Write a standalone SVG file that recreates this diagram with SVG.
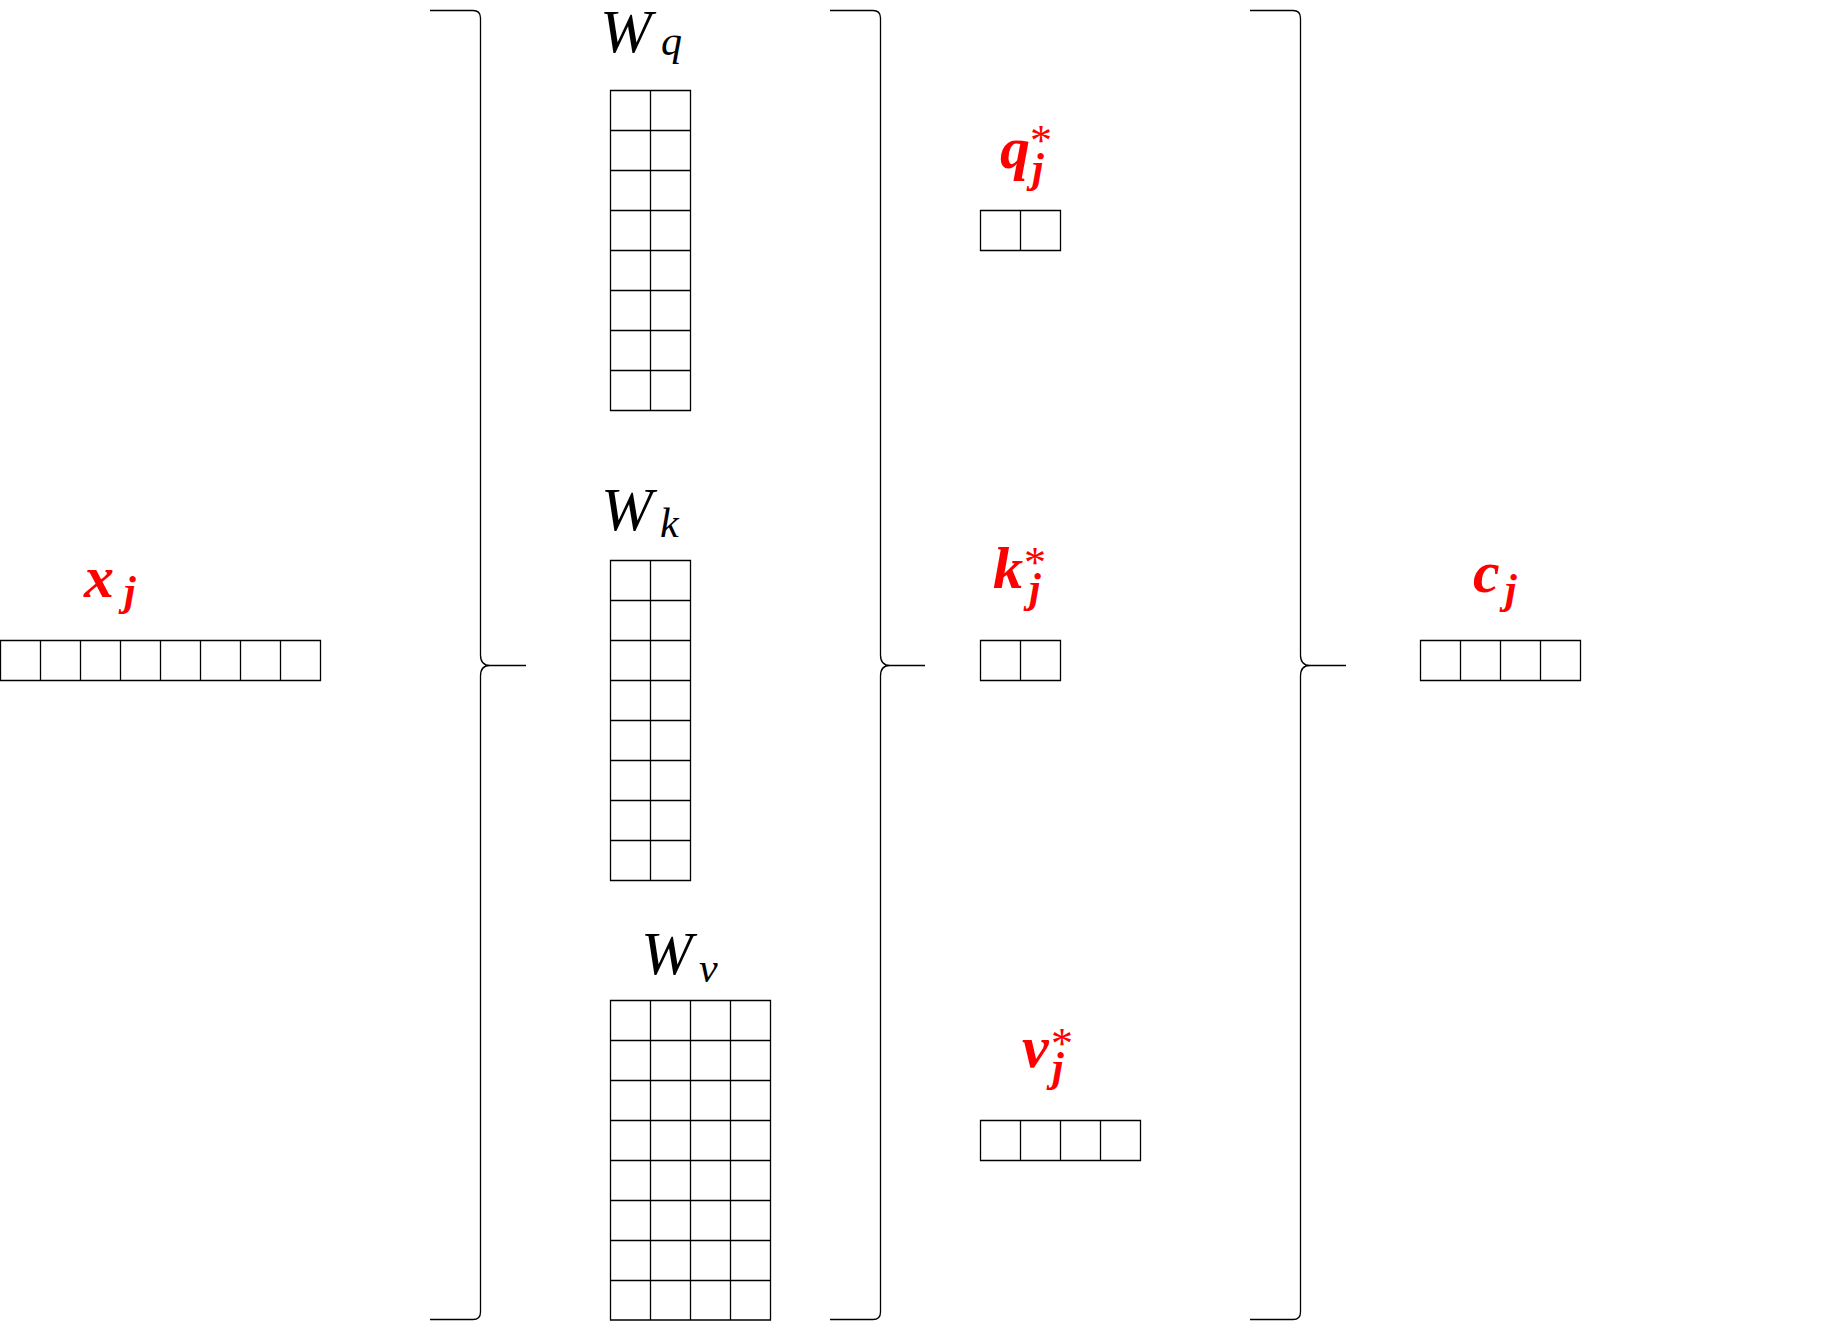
<svg xmlns="http://www.w3.org/2000/svg" width="1832" height="1321" viewBox="0 0 1832 1321">
<style>
.grid{fill:none;stroke:#000;stroke-width:1.3}
.brace{fill:none;stroke:#000;stroke-width:1.3}
.lbl{font-family:"Liberation Serif","Times New Roman",serif;font-style:italic;fill:#000}
.red{font-family:"Liberation Serif","Times New Roman",serif;font-style:italic;font-weight:bold;fill:#ff0000}
.star{font-style:normal;font-weight:normal}
</style>
<rect width="1832" height="1321" fill="#fff"/>
<g id="x_j">
<path class="grid" d="M0.5,640.5H320.5V680.5H0.5Z M40.5,640.5V680.5 M80.5,640.5V680.5 M120.5,640.5V680.5 M160.5,640.5V680.5 M200.5,640.5V680.5 M240.5,640.5V680.5 M280.5,640.5V680.5"/>
<text class="red" font-size="60"><tspan x="84" y="597">x</tspan><tspan x="124" y="605" font-size="42">j</tspan></text>
</g>
<g id="W_q">
<path class="grid" d="M610.5,90.5H690.5V410.5H610.5Z M650.5,90.5V410.5 M610.5,130.5H690.5 M610.5,170.5H690.5 M610.5,210.5H690.5 M610.5,250.5H690.5 M610.5,290.5H690.5 M610.5,330.5H690.5 M610.5,370.5H690.5"/>
<text class="lbl" font-size="62"><tspan x="600" y="52">W</tspan><tspan x="661" y="55" font-size="42">q</tspan></text>
</g>
<g id="W_k">
<path class="grid" d="M610.5,560.5H690.5V880.5H610.5Z M650.5,560.5V880.5 M610.5,600.5H690.5 M610.5,640.5H690.5 M610.5,680.5H690.5 M610.5,720.5H690.5 M610.5,760.5H690.5 M610.5,800.5H690.5 M610.5,840.5H690.5"/>
<text class="lbl" font-size="62"><tspan x="601" y="530">W</tspan><tspan x="660" y="537" font-size="42">k</tspan></text>
</g>
<g id="W_v">
<path class="grid" d="M610.5,1000.5H770.5V1320H610.5Z M650.5,1000.5V1320 M690.5,1000.5V1320 M730.5,1000.5V1320 M610.5,1040.5H770.5 M610.5,1080.5H770.5 M610.5,1120.5H770.5 M610.5,1160.5H770.5 M610.5,1200.5H770.5 M610.5,1240.5H770.5 M610.5,1280.5H770.5"/>
<text class="lbl" font-size="62"><tspan x="641" y="974">W</tspan><tspan x="699" y="982" font-size="42">v</tspan></text>
</g>
<g id="q_j">
<path class="grid" d="M980.5,210.5H1060.5V250.5H980.5Z M1020.5,210.5V250.5"/>
<text class="red" font-size="60"><tspan x="1000" y="168">q</tspan><tspan class="star" x="1030" y="155" font-size="44">*</tspan><tspan x="1032" y="182" font-size="42">j</tspan></text>
</g>
<g id="k_j">
<path class="grid" d="M980.5,640.5H1060.5V680.5H980.5Z M1020.5,640.5V680.5"/>
<text class="red" font-size="60"><tspan x="993" y="588">k</tspan><tspan class="star" x="1024" y="577" font-size="44">*</tspan><tspan x="1029" y="602" font-size="42">j</tspan></text>
</g>
<g id="v_j">
<path class="grid" d="M980.5,1120.5H1140.5V1160.5H980.5Z M1020.5,1120.5V1160.5 M1060.5,1120.5V1160.5 M1100.5,1120.5V1160.5"/>
<text class="red" font-size="60"><tspan x="1022" y="1067">v</tspan><tspan class="star" x="1051" y="1058" font-size="44">*</tspan><tspan x="1052" y="1081" font-size="42">j</tspan></text>
</g>
<g id="c_j">
<path class="grid" d="M1420.5,640.5H1580.5V680.5H1420.5Z M1460.5,640.5V680.5 M1500.5,640.5V680.5 M1540.5,640.5V680.5"/>
<text class="red" font-size="60"><tspan x="1473" y="592">c</tspan><tspan x="1505" y="603" font-size="42">j</tspan></text>
</g>
<g id="connectors">
<path class="brace" d="M430,10.5H473Q480.5,10.5 480.5,18V655Q480.5,665.5 490,665.5H526 M490,665.5Q480.5,665.5 480.5,676V1312Q480.5,1319.5 473,1319.5H430"/>
<path class="brace" d="M830,10.5H873Q880.5,10.5 880.5,18V655Q880.5,665.5 890,665.5H925 M890,665.5Q880.5,665.5 880.5,676V1312Q880.5,1319.5 873,1319.5H830"/>
<path class="brace" d="M1250,10.5H1293Q1300.5,10.5 1300.5,18V655Q1300.5,665.5 1310,665.5H1346 M1310,665.5Q1300.5,665.5 1300.5,676V1312Q1300.5,1319.5 1293,1319.5H1250"/>
</g>
</svg>
